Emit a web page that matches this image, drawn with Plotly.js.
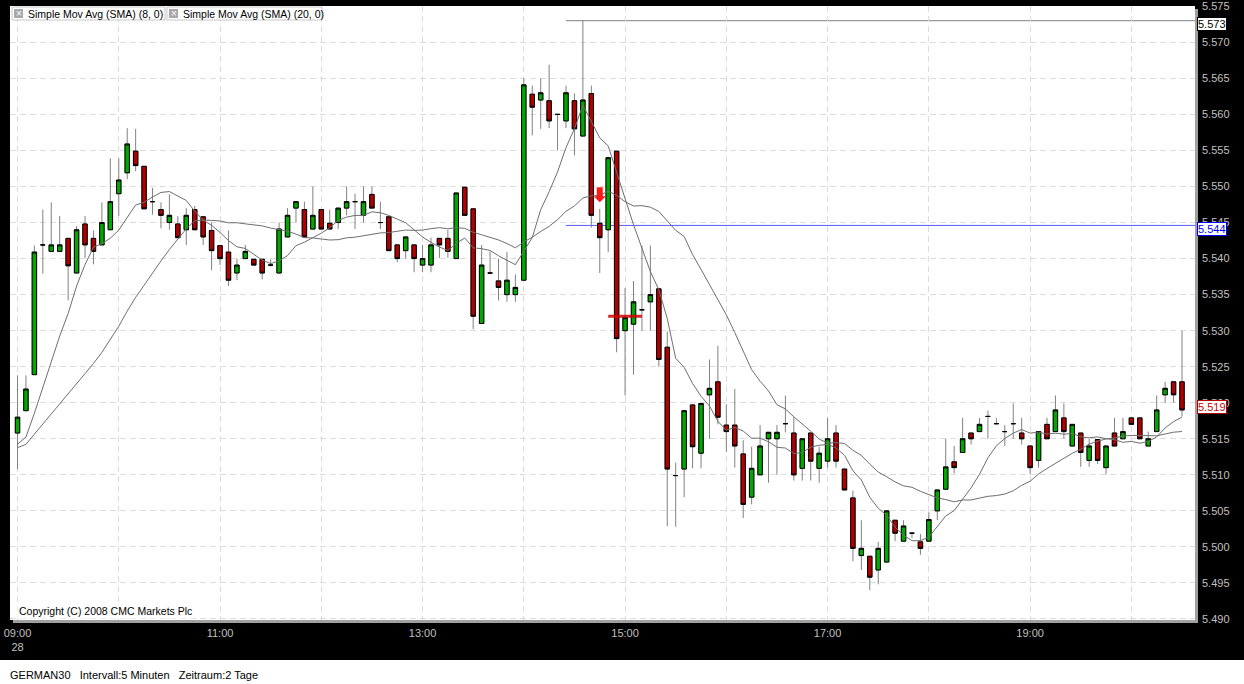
<!DOCTYPE html>
<html>
<head>
<meta charset="utf-8">
<script src="https://cdn.plot.ly/plotly-3.0.1.min.js"></script>
<style>
  html, body { margin: 0; padding: 0; background: #000; }
  #chart { width: 1244px; height: 684px; }
</style>
</head>
<body>
<div id="chart"></div>
<script>
// ---------------- DATA ----------------
const sessionDate = '2008-03-28';
const firstBarTime = '09:00';
const intervalMinutes = 5;

const open = [
5.5158,5.5189,5.5239,5.5419,5.5410,5.5410,5.5428,5.5380,5.5448,5.5428,
5.5419,5.5440,5.5490,5.5519,5.5549,5.5528,5.5479,5.5468,5.5450,5.5448,
5.5440,5.5468,5.5458,5.5439,5.5418,5.5409,5.5380,5.5400,5.5399,5.5399,
5.5391,5.5380,5.5430,5.5470,5.5468,5.5441,5.5468,5.5449,5.5450,5.5470,
5.5479,5.5460,5.5489,5.5450,5.5458,5.5419,5.5411,5.5419,5.5391,5.5391,
5.5428,5.5428,5.5400,5.5499,5.5469,5.5310,5.5380,5.5369,5.5350,5.5350,
5.5370,5.5628,5.5620,5.5619,5.5600,5.5591,5.5619,5.5570,5.5629,5.5449,
5.5440,5.5549,5.5300,5.5309,5.5329,5.5340,5.5358,5.5277,5.5099,5.5108,
5.5197,5.5130,5.5211,5.5229,5.5169,5.5169,5.5129,5.5069,5.5100,5.5150,
5.5150,5.5171,5.5158,5.5109,5.5158,5.5109,5.5119,5.5158,5.5108,5.5068,
5.4988,5.4987,5.4968,5.4979,5.5037,5.5008,5.5019,5.5007,5.5008,5.5050,
5.5080,5.5118,5.5131,5.5158,5.5160,5.5181,5.5171,5.5160,5.5171,5.5158,
5.5140,5.5120,5.5170,5.5160,5.5179,5.5140,5.5158,5.5120,5.5149,5.5110,
5.5158,5.5150,5.5179,5.5179,5.5140,5.5160,5.5211,5.5229,5.5229
];
const high = [
5.5238,5.5238,5.5418,5.5468,5.5478,5.5459,5.5428,5.5445,5.5459,5.5439,
5.5478,5.5539,5.5539,5.5581,5.5580,5.5528,5.5498,5.5478,5.5489,5.5459,
5.5470,5.5473,5.5458,5.5450,5.5418,5.5439,5.5400,5.5419,5.5399,5.5399,
5.5399,5.5450,5.5470,5.5479,5.5479,5.5500,5.5468,5.5468,5.5470,5.5500,
5.5490,5.5500,5.5500,5.5479,5.5458,5.5419,5.5430,5.5419,5.5419,5.5429,
5.5428,5.5440,5.5491,5.5499,5.5469,5.5419,5.5410,5.5400,5.5409,5.5378,
5.5650,5.5640,5.5650,5.5669,5.5600,5.5640,5.5629,5.5730,5.5640,5.5469,
5.5540,5.5549,5.5359,5.5369,5.5418,5.5418,5.5358,5.5299,5.5117,5.5189,
5.5197,5.5199,5.5260,5.5279,5.5198,5.5219,5.5148,5.5139,5.5169,5.5159,
5.5169,5.5210,5.5180,5.5150,5.5158,5.5139,5.5179,5.5169,5.5108,5.5078,
5.5037,5.4987,5.5007,5.5050,5.5037,5.5037,5.5019,5.5018,5.5048,5.5079,
5.5150,5.5140,5.5179,5.5158,5.5179,5.5189,5.5179,5.5169,5.5199,5.5179,
5.5140,5.5160,5.5179,5.5210,5.5199,5.5170,5.5158,5.5150,5.5149,5.5140,
5.5179,5.5179,5.5179,5.5179,5.5160,5.5210,5.5229,5.5229,5.5300
];
const low = [
5.5108,5.5189,5.5239,5.5379,5.5410,5.5410,5.5342,5.5380,5.5401,5.5392,
5.5419,5.5440,5.5459,5.5510,5.5521,5.5469,5.5461,5.5442,5.5440,5.5429,
5.5419,5.5440,5.5419,5.5384,5.5391,5.5362,5.5370,5.5400,5.5391,5.5371,
5.5389,5.5380,5.5430,5.5450,5.5430,5.5441,5.5441,5.5441,5.5441,5.5460,
5.5441,5.5450,5.5470,5.5441,5.5411,5.5395,5.5400,5.5381,5.5381,5.5381,
5.5401,5.5401,5.5400,5.5460,5.5302,5.5310,5.5380,5.5342,5.5340,5.5340,
5.5370,5.5571,5.5580,5.5581,5.5550,5.5581,5.5543,5.5570,5.5443,5.5380,
5.5409,5.5270,5.5210,5.5239,5.5300,5.5300,5.5250,5.5029,5.5028,5.5069,
5.5109,5.5109,5.5150,5.5170,5.5132,5.5110,5.5040,5.5059,5.5100,5.5089,
5.5100,5.5159,5.5092,5.5092,5.5092,5.5089,5.5110,5.5110,5.5079,5.4980,
5.4968,5.4940,5.4948,5.4979,5.5008,5.5008,5.5012,5.4989,5.5008,5.5037,
5.5080,5.5102,5.5131,5.5142,5.5160,5.5150,5.5171,5.5140,5.5150,5.5142,
5.5101,5.5110,5.5150,5.5160,5.5150,5.5140,5.5111,5.5111,5.5115,5.5101,
5.5140,5.5150,5.5170,5.5150,5.5140,5.5160,5.5200,5.5200,5.5181
];
const close = [
5.5180,5.5219,5.5409,5.5419,5.5419,5.5419,5.5390,5.5440,5.5419,5.5410,
5.5450,5.5479,5.5509,5.5559,5.5529,5.5469,5.5479,5.5460,5.5460,5.5429,
5.5460,5.5440,5.5430,5.5411,5.5400,5.5370,5.5391,5.5410,5.5391,5.5380,
5.5391,5.5441,5.5460,5.5479,5.5430,5.5460,5.5441,5.5441,5.5470,5.5479,
5.5479,5.5479,5.5470,5.5450,5.5411,5.5400,5.5430,5.5400,5.5400,5.5419,
5.5419,5.5410,5.5491,5.5460,5.5320,5.5391,5.5380,5.5360,5.5370,5.5360,
5.5641,5.5610,5.5630,5.5591,5.5600,5.5630,5.5580,5.5620,5.5460,5.5429,
5.5540,5.5289,5.5318,5.5340,5.5329,5.5350,5.5260,5.5108,5.5099,5.5189,
5.5139,5.5199,5.5220,5.5180,5.5160,5.5140,5.5059,5.5109,5.5140,5.5159,
5.5159,5.5171,5.5100,5.5150,5.5119,5.5130,5.5150,5.5119,5.5079,5.4998,
5.4998,5.4958,5.4998,5.5050,5.5019,5.5029,5.5019,5.4998,5.5038,5.5079,
5.5111,5.5110,5.5150,5.5150,5.5170,5.5181,5.5171,5.5160,5.5171,5.5150,
5.5110,5.5160,5.5150,5.5190,5.5160,5.5170,5.5131,5.5140,5.5120,5.5140,
5.5140,5.5160,5.5170,5.5150,5.5150,5.5190,5.5220,5.5211,5.5190
];
// closes of the previous session (scrolled off to the left), feeding the moving averages
const prevSessionCloses = [
5.5130,5.5125,5.5140,5.5135,5.5130,5.5140,5.5145,5.5135,5.5130,5.5140,
5.5135,5.5130,5.5140,5.5145,5.5135,5.5130,5.5135,5.5140,5.5135
];
const smaPeriods = [8, 20];
const legendLabels = ['Simple Mov Avg (SMA) (8, 0)', 'Simple Mov Avg (SMA) (20, 0)'];
const hourTicks = ['09:00','10:00','11:00','12:00','13:00','14:00','15:00','16:00','17:00','18:00','19:00','20:00'];
const hourTickText = ['09:00<br>28','','11:00','','13:00','','15:00','','17:00','','19:00',''];
const highLevel = 5.573, highLevelText = '5.573';
const stopLevel = 5.5446, stopLevelText = '5.544';
const lastText = '5.519';
const levelStartBar = 65;
const sellSignalBar = 69, sellSignalPrice = 5.5478;
const orderLevel = 5.532, orderFromBar = 70, orderToBar = 74;
const xRange = [sessionDate + ' 08:55:33', sessionDate + ' 20:37:42'];
const yRange = [5.48986, 5.57504];
const copyrightText = 'Copyright (C) 2008 CMC Markets Plc';
const footerText = 'GERMAN30\u00a0\u00a0\u00a0Intervall:5 Minuten\u00a0\u00a0\u00a0Zeitraum:2 Tage';

// ---------------- HELPERS ----------------
function pad(n){ return (n < 10 ? '0' : '') + n; }
const [h0, m0] = firstBarTime.split(':').map(Number);
const times = close.map((_, i) => {
  const t = h0 * 60 + m0 + i * intervalMinutes;
  return sessionDate + ' ' + pad(Math.floor(t / 60)) + ':' + pad(t % 60);
});
function sma(period) {
  const all = prevSessionCloses.concat(close);
  const off = prevSessionCloses.length;
  return close.map((_, i) => {
    let s = 0;
    for (let k = 0; k < period; k++) s += all[off + i - k];
    return s / period;
  });
}
// pixel -> paper helpers (plot area: x 10..1195, y 6..620)
const PL = 10, PR = 1195, PT = 6, PB = 620;
const px = x => (x - PL) / (PR - PL);
const py = y => (PB - y) / (PB - PT);

const FONT = 'Liberation Sans, Arial, sans-serif';
const GREEN = '#00a800', RED = '#b00000';

const bodyHigh = open.map((o, i) => Math.max(o, close[i]));
const bodyLow = open.map((o, i) => Math.min(o, close[i]));

const traces = [
  { // wicks
    type: 'candlestick', x: times, open: open, high: high, low: low, close: close,
    increasing: { line: { color: '#808080', width: 1 }, fillcolor: GREEN },
    decreasing: { line: { color: '#808080', width: 1 }, fillcolor: RED },
    whiskerwidth: 0, hoverinfo: 'skip', showlegend: false
  },
  { // bodies with black outline
    type: 'candlestick', x: times, open: open, high: bodyHigh, low: bodyLow, close: close,
    increasing: { line: { color: '#000000', width: 1 }, fillcolor: GREEN },
    decreasing: { line: { color: '#000000', width: 1 }, fillcolor: RED },
    whiskerwidth: 0, hoverinfo: 'skip', showlegend: false
  }
];
smaPeriods.forEach(p => {
  traces.push({
    type: 'scatter', mode: 'lines', x: times, y: sma(p),
    line: { color: '#6e6e6e', width: 1 }, hoverinfo: 'skip', showlegend: false
  });
});
traces.push({
  type: 'scatter', mode: 'lines',
  x: [times[orderFromBar], times[orderToBar]], y: [orderLevel, orderLevel],
  line: { color: 'rgba(210,0,0,0.85)', width: 3 }, hoverinfo: 'skip', showlegend: false
});

const shapes = [
  // level lines
  { type: 'line', xref: 'x', yref: 'y', x0: times[levelStartBar], x1: xRange[1], y0: highLevel, y1: highLevel,
    line: { color: '#808080', width: 1 }, layer: 'below' },
  { type: 'line', xref: 'x', yref: 'y', x0: times[levelStartBar], x1: xRange[1], y0: stopLevel, y1: stopLevel,
    line: { color: '#5a5aff', width: 1 }, layer: 'below' },
  // sell arrow
  { type: 'path', xref: 'x', yref: 'y', xsizemode: 'pixel', ysizemode: 'pixel',
    xanchor: times[sellSignalBar], yanchor: sellSignalPrice,
    path: 'M-3,15 L3,15 L3,6 L6,6 L0,0 L-6,6 L-3,6 Z',
    fillcolor: '#ff1a1a', line: { width: 0 } },
  // frame shadow
  { type: 'rect', xref: 'paper', yref: 'paper', x0: 1, x1: px(1198), y0: py(623), y1: py(9),
    fillcolor: '#a0a0a0', line: { width: 0 } },
  { type: 'rect', xref: 'paper', yref: 'paper', x0: px(13), x1: px(1198), y0: py(623), y1: 0,
    fillcolor: '#a0a0a0', line: { width: 0 } },
  // footer white strip
  { type: 'rect', xref: 'paper', yref: 'paper', x0: px(-2), x1: px(1250), y0: py(690), y1: py(660),
    fillcolor: '#ffffff', line: { width: 0 } },
  // legend boxes
  { type: 'rect', xref: 'paper', yref: 'paper', x0: px(12), x1: px(165), y0: py(20), y1: py(7),
    fillcolor: '#ffffff', line: { color: '#c8c8c8', width: 1 } },
  { type: 'rect', xref: 'paper', yref: 'paper', x0: px(167), x1: px(322), y0: py(20), y1: py(7),
    fillcolor: '#ffffff', line: { color: '#c8c8c8', width: 1 } },
  { type: 'rect', xref: 'paper', yref: 'paper', x0: px(14), x1: px(23), y0: py(18), y1: py(9),
    fillcolor: '#a8a8a8', line: { width: 0 } },
  { type: 'rect', xref: 'paper', yref: 'paper', x0: px(169), x1: px(178), y0: py(18), y1: py(9),
    fillcolor: '#a8a8a8', line: { width: 0 } }
];

const annotations = [
  { xref: 'paper', yref: 'paper', x: px(26), y: py(13.5), xanchor: 'left', yanchor: 'middle',
    text: legendLabels[0], showarrow: false, font: { family: FONT, size: 10.5, color: '#000' } },
  { xref: 'paper', yref: 'paper', x: px(181), y: py(13.5), xanchor: 'left', yanchor: 'middle',
    text: legendLabels[1], showarrow: false, font: { family: FONT, size: 10.5, color: '#000' } },
  { xref: 'paper', yref: 'paper', x: px(18.5), y: py(13.5), xanchor: 'center', yanchor: 'middle',
    text: '×', showarrow: false, font: { family: FONT, size: 10, color: '#fff' } },
  { xref: 'paper', yref: 'paper', x: px(173.5), y: py(13.5), xanchor: 'center', yanchor: 'middle',
    text: '×', showarrow: false, font: { family: FONT, size: 10, color: '#fff' } },
  { xref: 'paper', yref: 'paper', x: px(17), y: py(611), xanchor: 'left', yanchor: 'middle',
    text: copyrightText, showarrow: false, bgcolor: '#ffffff', borderpad: 1,
    font: { family: FONT, size: 10.5, color: '#000' } },
  { xref: 'paper', yref: 'paper', x: px(8), y: py(675), xanchor: 'left', yanchor: 'middle',
    text: footerText, showarrow: false, font: { family: FONT, size: 11, color: '#000' } },
  // right price labels
  { xref: 'paper', yref: 'paper', x: 1, xshift: 2, y: py(24), xanchor: 'left', yanchor: 'middle',
    text: highLevelText, showarrow: false, bgcolor: '#ffffff', bordercolor: '#000000', borderwidth: 1, borderpad: 0,
    font: { family: FONT, size: 11, color: '#000' } },
  { xref: 'paper', yref: 'paper', x: 1, xshift: 2, y: py(229), xanchor: 'left', yanchor: 'middle',
    text: stopLevelText, showarrow: false, bgcolor: '#ffffff', bordercolor: '#0000ff', borderwidth: 1, borderpad: 0,
    font: { family: FONT, size: 11, color: '#0000ff' } },
  { xref: 'paper', yref: 'paper', x: 1, xshift: 2, y: py(407), xanchor: 'left', yanchor: 'middle',
    text: lastText, showarrow: false, bgcolor: '#ffffff', bordercolor: '#b00000', borderwidth: 1, borderpad: 0,
    font: { family: FONT, size: 11, color: '#d00000' } }
];

const layout = {
  width: 1244, height: 684,
  paper_bgcolor: '#000000', plot_bgcolor: '#ffffff',
  margin: { l: PL, r: 1244 - PR, t: PT, b: 684 - PB },
  showlegend: false, hovermode: false,
  boxgap: 0.25,
  font: { family: FONT, size: 11, color: '#c0c0c0' },
  xaxis: {
    type: 'date', range: xRange, rangeslider: { visible: false },
    tickmode: 'array', tickvals: hourTicks.map(h => sessionDate + ' ' + h), ticktext: hourTickText,
    showgrid: true, gridcolor: '#dcdcdc', griddash: '6px,4px', gridwidth: 1,
    zeroline: false, showline: false, ticks: '', ticklabelstandoff: 5,
    tickfont: { family: FONT, size: 11, color: '#c0c0c0' }
  },
  yaxis: {
    side: 'right', range: yRange, tick0: 5.49, dtick: 0.005, tickformat: '.3f',
    showgrid: true, gridcolor: '#dcdcdc', griddash: '6px,4px', gridwidth: 1,
    zeroline: false, showline: false, ticks: '', ticklabelstandoff: 6,
    tickfont: { family: FONT, size: 11, color: '#c0c0c0' }
  },
  shapes: shapes,
  annotations: annotations
};

Plotly.newPlot('chart', traces, layout, { staticPlot: true, displayModeBar: false });
</script>
</body>
</html>
